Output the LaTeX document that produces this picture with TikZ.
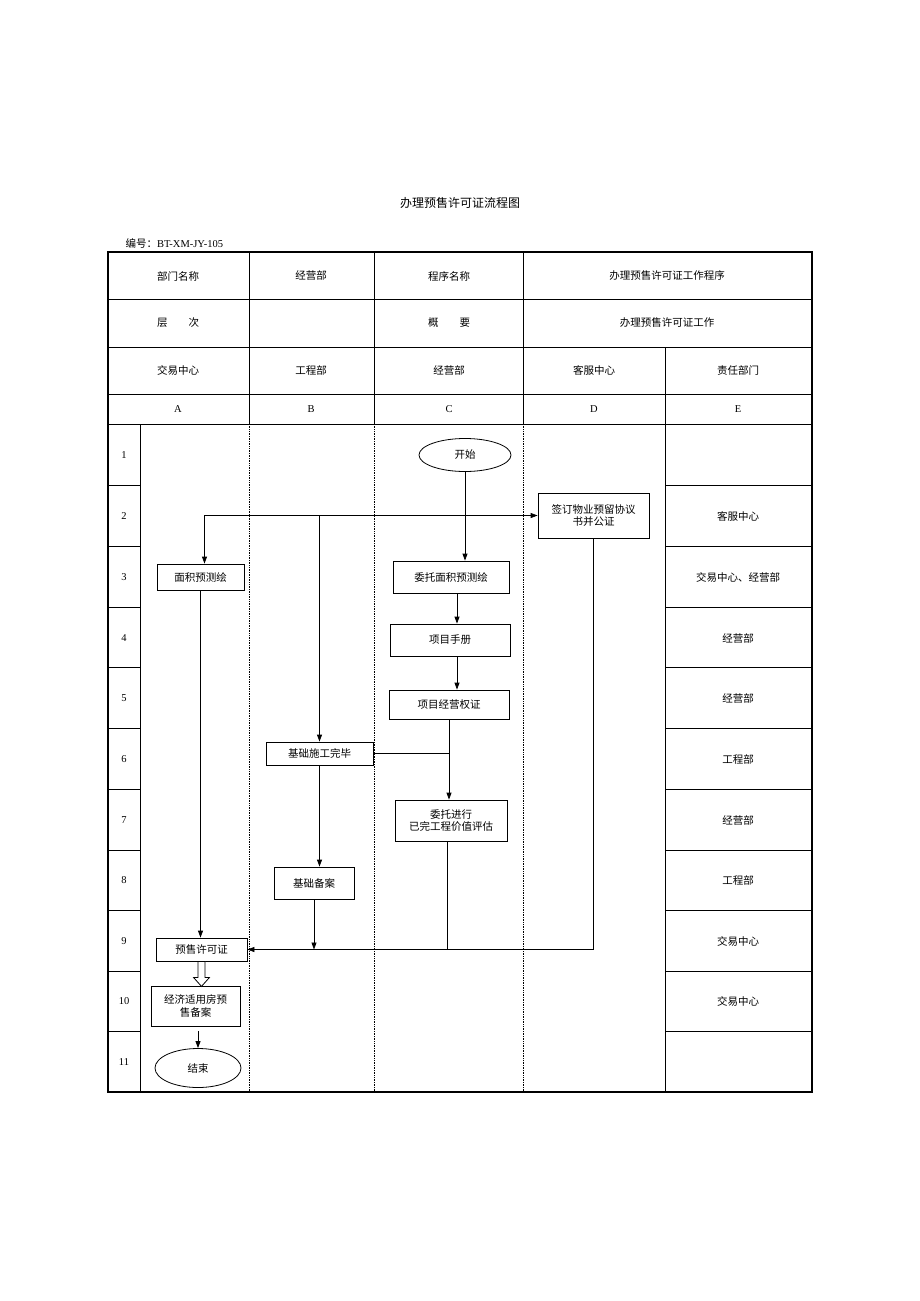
\documentclass[tikz,border=0pt]{standalone}
\usepackage{fontspec}
\setmainfont{Liberation Serif}
\newfontfamily\cjk{Noto Sans CJK SC}
\usetikzlibrary{shapes.geometric}
\usetikzlibrary{arrows.meta}

\begin{document}
\begin{tikzpicture}[x=1pt,y=-1pt,
    every node/.style={font=\cjk\fontsize{10.5}{12.5}\selectfont},
    lat/.style={font=\fontsize{10.5}{12}\selectfont},
    box/.style={draw,line width=0.8pt,inner sep=0pt,align=center},
    oval/.style={draw,ellipse,line width=0.8pt,inner sep=0pt},
    flow/.style={line width=0.8pt,-{Triangle[length=7pt,width=5pt]}},
    link/.style={line width=0.8pt},
    thin line/.style={line width=0.9pt},
    lane/.style={line width=0.7pt,densely dotted}]
    \useasboundingbox (0,0) rectangle (920,1301);

    % title
    \node (title) at (460,203) {\fontsize{12}{14}\selectfont 办理预售许可证流程图};
    \node[anchor=west,lat] (code) at (122,243) {{\cjk 编号：}BT-XM-JY-105};

    % table frame
    \draw [line width=1.8pt] (108,252) rectangle (812,1092);
    \draw [thin line] (108,299) -- (812,299);
    \draw [thin line] (108,347) -- (812,347);
    \draw [thin line] (108,394) -- (812,394);
    \draw [thin line] (108,424) -- (812,424);
    \draw [thin line] (249,252) -- (249,424);
    \draw [thin line] (374,252) -- (374,424);
    \draw [thin line] (523,252) -- (523,424);
    \draw [thin line] (665,347) -- (665,1092);
    \draw [thin line] (140,424) -- (140,1092);
    \draw [lane] (249,424) -- (249,1092);
    \draw [lane] (374,424) -- (374,1092);
    \draw [lane] (523,424) -- (523,1092);
    \draw [thin line] (108,485) -- (140,485);  \draw [thin line] (665,485) -- (812,485);
    \draw [thin line] (108,546) -- (140,546);  \draw [thin line] (665,546) -- (812,546);
    \draw [thin line] (108,607) -- (140,607);  \draw [thin line] (665,607) -- (812,607);
    \draw [thin line] (108,667) -- (140,667);  \draw [thin line] (665,667) -- (812,667);
    \draw [thin line] (108,728) -- (140,728);  \draw [thin line] (665,728) -- (812,728);
    \draw [thin line] (108,789) -- (140,789);  \draw [thin line] (665,789) -- (812,789);
    \draw [thin line] (108,850) -- (140,850);  \draw [thin line] (665,850) -- (812,850);
    \draw [thin line] (108,910) -- (140,910);  \draw [thin line] (665,910) -- (812,910);
    \draw [thin line] (108,971) -- (140,971);  \draw [thin line] (665,971) -- (812,971);
    \draw [thin line] (108,1031) -- (140,1031);  \draw [thin line] (665,1031) -- (812,1031);

    % header texts
    \node (hdept) at (178,276) {部门名称};
    \node (hjyb) at (311,276) {经营部};
    \node (hprog) at (449,276) {程序名称};
    \node (hprogname) at (667,276) {办理预售许可证工作程序};
    \node (hlevel) at (178,323) {层\hspace{2em}次};
    \node (hsum) at (449,323) {概\hspace{2em}要};
    \node (hsumtext) at (667,323) {办理预售许可证工作};
    \node (lanea) at (178,370) {交易中心};
    \node (laneb) at (311,370) {工程部};
    \node (lanec) at (449,370) {经营部};
    \node (laned) at (594,370) {客服中心};
    \node (lanee) at (738,370) {责任部门};
    \node[lat] (cola) at (178,409) {A};
    \node[lat] (colb) at (311,409) {B};
    \node[lat] (colc) at (449,409) {C};
    \node[lat] (cold) at (594,409) {D};
    \node[lat] (cole) at (738,409) {E};

    % row numbers
    \node[lat] (r1) at (124,455) {1};
    \node[lat] (r2) at (124,516) {2};
    \node[lat] (r3) at (124,577) {3};
    \node[lat] (r4) at (124,638) {4};
    \node[lat] (r5) at (124,698) {5};
    \node[lat] (r6) at (124,759) {6};
    \node[lat] (r7) at (124,820) {7};
    \node[lat] (r8) at (124,880) {8};
    \node[lat] (r9) at (124,941) {9};
    \node[lat] (r10) at (124,1001) {10};
    \node[lat] (r11) at (124,1062) {11};

    % responsible departments
    \node (e2) at (738,516) {客服中心};
    \node (e3) at (738,577) {交易中心、经营部};
    \node (e4) at (738,638) {经营部};
    \node (e5) at (738,698) {经营部};
    \node (e6) at (738,759) {工程部};
    \node (e7) at (738,820) {经营部};
    \node (e8) at (738,880) {工程部};
    \node (e9) at (738,941) {交易中心};
    \node (e10) at (738,1001) {交易中心};

    % flow nodes
    \node[oval,minimum width=92pt,minimum height=33pt] (start) at (465,455) {开始};
    \node[box,minimum width=111pt,minimum height=45pt] (qd) at (593.5,515.5) {签订物业预留协议\\书并公证};
    \node[box,minimum width=87pt,minimum height=26pt] (mjch) at (200.5,577) {面积预测绘};
    \node[box,minimum width=116pt,minimum height=32pt] (wtmj) at (451,577) {委托面积预测绘};
    \node[box,minimum width=120pt,minimum height=32pt] (xmsc) at (450,640) {项目手册};
    \node[box,minimum width=120pt,minimum height=29pt] (xmjyq) at (449,704.5) {项目经营权证};
    \node[box,minimum width=107pt,minimum height=23pt] (jcsg) at (319.5,753.5) {基础施工完毕};
    \node[box,minimum width=112pt,minimum height=41pt] (wtpg) at (451,820.5) {委托进行\\已完工程价值评估};
    \node[box,minimum width=80pt,minimum height=32pt] (jcba) at (314,883) {基础备案};
    \node[box,minimum width=91pt,minimum height=23pt] (ysxkz) at (201.5,949.5) {预售许可证};
    \node[box,minimum width=89pt,minimum height=40pt] (jjsy) at (195.5,1006) {经济适用房预\\售备案};
    \node[oval,minimum width=86pt,minimum height=39pt] (end) at (198,1068) {结束};

    % connectors
    \coordinate (split) at (start.south |- qd.west);
    \draw [flow] (start) -- (start |- wtmj.north);
    \draw [flow] (split) -- (qd.west);
    \draw [flow] (split) -| ([xshift=4pt]mjch.north);
    \draw [flow] (jcsg.north |- split) -- (jcsg.north);
    \draw [flow] ([xshift=6pt]wtmj.south) -- ([xshift=6pt]wtmj.south |- xmsc.north);
    \draw [flow] ([xshift=7pt]xmsc.south) -- ([xshift=7pt]xmsc.south |- xmjyq.north);
    \draw [flow] (xmjyq.south) -- (xmjyq.south |- wtpg.north);
    \draw [link] (jcsg.east) -- (xmjyq.south |- jcsg.east);
    \draw [flow] (jcsg.south) -- (jcsg.south |- jcba.north);
    \draw [flow] (mjch.south) -- (mjch.south |- ysxkz.north);
    \draw [flow] (jcba.south) -- (jcba.south |- ysxkz.east);
    \draw [link] ([xshift=-4pt]wtpg.south) -- ([xshift=-4pt]wtpg.south |- ysxkz.east);
    \draw [flow] (qd.south) |- (ysxkz.east);
    \draw [line width=0.8pt,fill=white] ([xshift=-3.5pt]ysxkz.south) -- ++(0,16) -- ++(-4.5,0)
        -- ++(8,9) -- ++(8,-9) -- ++(-4.5,0) -- ++(0,-16) -- cycle;
    \draw [flow] ([yshift=-5pt]end.north |- jjsy.south) -- (end.north);
\end{tikzpicture}
\end{document}
